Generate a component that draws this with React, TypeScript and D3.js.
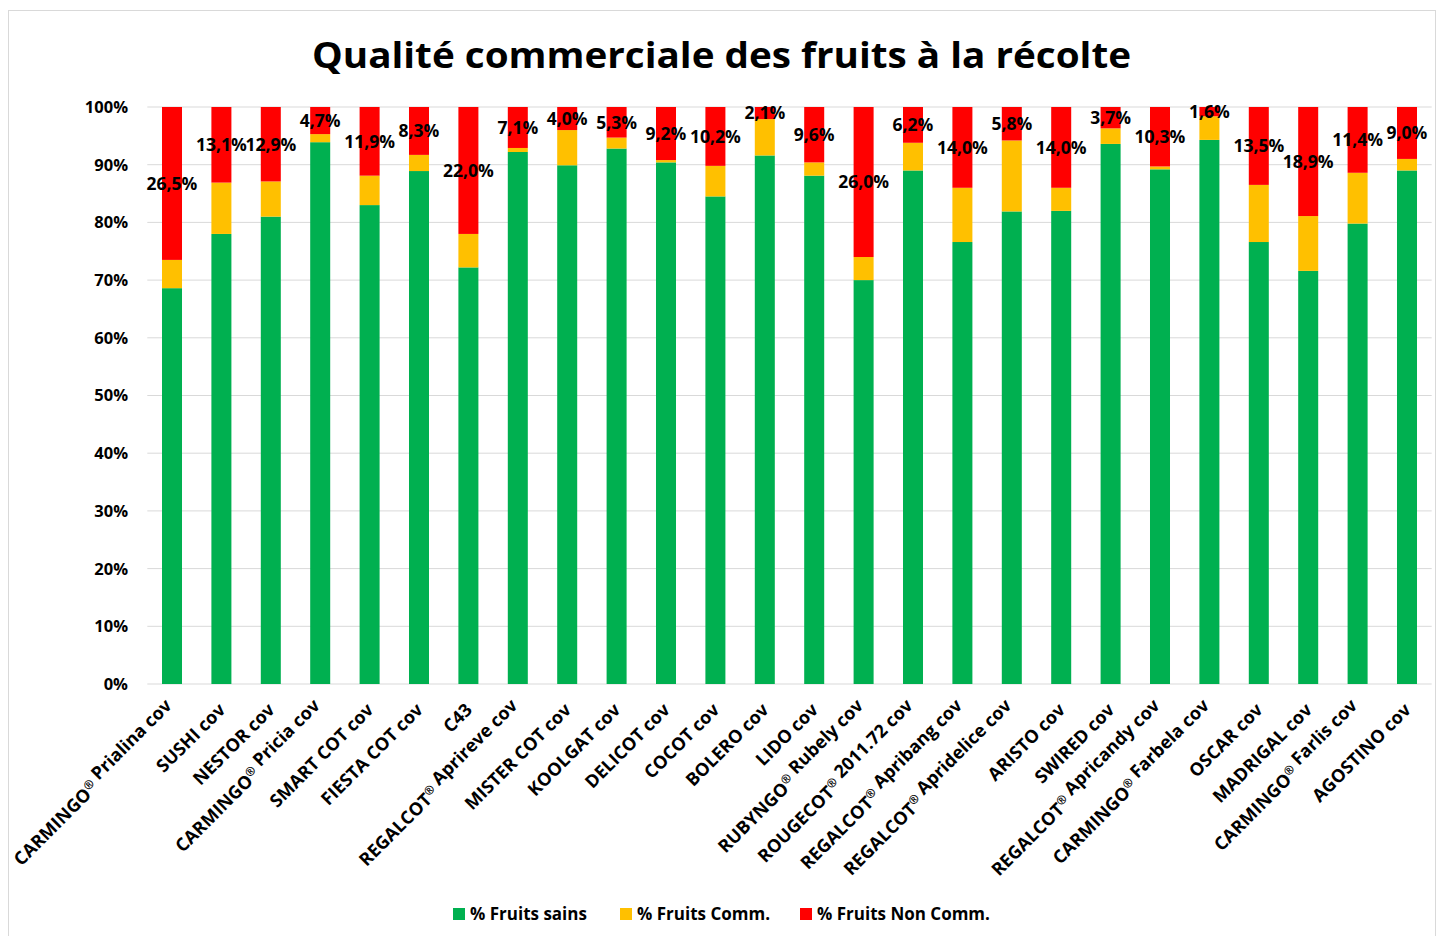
import React from 'react';
import * as d3 from 'd3';

// Stacked 100% bars: quality of fruits at harvest, per variety.

const CATEGORIES = [
  'CARMINGO® Prialina cov', 'SUSHI cov', 'NESTOR cov', 'CARMINGO® Pricia cov',
  'SMART COT cov', 'FIESTA COT cov', 'C43', 'REGALCOT® Aprireve cov',
  'MISTER COT cov', 'KOOLGAT cov', 'DELICOT cov', 'COCOT cov', 'BOLERO cov',
  'LIDO cov', 'RUBYNGO® Rubely cov', 'ROUGECOT® 2011.72 cov',
  'REGALCOT® Apribang cov', 'REGALCOT® Apridelice cov', 'ARISTO cov',
  'SWIRED cov', 'REGALCOT® Apricandy cov', 'CARMINGO® Farbela cov',
  'OSCAR cov', 'MADRIGAL cov', 'CARMINGO® Farlis cov', 'AGOSTINO cov',
];

const SAINS = [
  68.6, 78.0, 81.0, 93.9, 83.0, 88.9, 72.2, 92.2, 89.9, 92.8, 90.4, 84.5, 91.6,
  88.1, 70.0, 89.0, 76.6, 81.9, 82.0, 93.6, 89.2, 94.3, 76.6, 71.6, 79.8, 89.0,
];
const COMM = [
  4.9, 8.9, 6.1, 1.4, 5.1, 2.8, 5.8, 0.7, 6.1, 1.9, 0.4, 5.3, 6.3,
  2.3, 4.0, 4.8, 9.4, 12.3, 4.0, 2.7, 0.5, 4.1, 9.9, 9.5, 8.8, 2.0,
];
const NON_COMM = [
  26.5, 13.1, 12.9, 4.7, 11.9, 8.3, 22.0, 7.1, 4.0, 5.3, 9.2, 10.2, 2.1,
  9.6, 26.0, 6.2, 14.0, 5.8, 14.0, 3.7, 10.3, 1.6, 13.5, 18.9, 11.4, 9.0,
];

const SERIES = ['% Fruits sains', '% Fruits Comm.', '% Fruits Non Comm.'];
const COLORS = ['#00B050', '#FFC000', '#FF0000'];
const Y_TICKS = d3.range(0, 101, 10);

const W = 1443;
const H = 936;
const PLOT_LEFT = 147.3;
const PLOT_RIGHT = 1431.7;
const PLOT_TOP = 107;
const PLOT_BOTTOM = 684;
const FONT = '"Open Sans", Lato, sans-serif';

function Label({ text }: { text: string }) {
  const parts = text.split('®');
  return (
    <>
      {parts.map((p, i) => (
        <React.Fragment key={i}>
          {p}
          {i < parts.length - 1 && (
            <tspan fontSize={12} dy={-6}>®</tspan>
          )}
          {i < parts.length - 1 && <tspan dy={6}>{''}</tspan>}
        </React.Fragment>
      ))}
    </>
  );
}

export default function App() {
  const x = d3
    .scaleBand<string>()
    .domain(CATEGORIES)
    .range([PLOT_LEFT, PLOT_RIGHT])
    .paddingInner(0.595)
    .paddingOuter(0.2975);
  const y = d3.scaleLinear().domain([0, 100]).range([PLOT_BOTTOM, PLOT_TOP]);

  const rows = CATEGORIES.map((c, i) => ({
    cat: c,
    v: [SAINS[i], COMM[i], NON_COMM[i]],
  }));

  const legendX = [453, 620, 800];

  return (
    <svg
      width={W}
      height={H}
      viewBox={`0 0 ${W} ${H}`}
      style={{ position: 'absolute', left: 0, top: 0, background: '#fff' }}
      fontFamily={FONT}
    >
      <rect x={0} y={0} width={W} height={H} fill="#fff" />
      <rect x={8.5} y={10.5} width={1427} height={940} fill="none" stroke="#d9d9d9" />

      <text
        x={312}
        y={68}
        fontSize={35}
        fontWeight={700}
        fill="#000"
        textLength={819}
        lengthAdjust="spacingAndGlyphs"
      >
        Qualité commerciale des fruits à la récolte
      </text>

      {/* grid + y axis */}
      {Y_TICKS.map((t) => (
        <g key={`g-${t}`}>
          <line
            x1={PLOT_LEFT}
            x2={PLOT_RIGHT}
            y1={y(t)}
            y2={y(t)}
            stroke="#d9d9d9"
            strokeWidth={1}
          />
          <text
            x={128}
            y={y(t)}
            dy="0.36em"
            textAnchor="end"
            fontSize={16.5}
            fontWeight={700}
          >
            {`${t}%`}
          </text>
        </g>
      ))}

      {/* bars */}
      {rows.map((r) => {
        let acc = 0;
        const bx = x(r.cat) ?? 0;
        return (
          <g key={r.cat}>
            {r.v.map((v, k) => {
              const y0 = acc;
              acc += v;
              return (
                <rect
                  key={k}
                  x={bx}
                  width={x.bandwidth()}
                  y={y(y0 + v)}
                  height={y(y0) - y(y0 + v)}
                  fill={COLORS[k]}
                />
              );
            })}
          </g>
        );
      })}

      {/* data labels on red segment */}
      {rows.map((r) => {
        const base = r.v[0] + r.v[1];
        const cy = (y(base) + y(base + r.v[2])) / 2;
        return (
          <text
            key={`l-${r.cat}`}
            x={(x(r.cat) ?? 0) + x.bandwidth() / 2}
            y={cy}
            dy="0.36em"
            textAnchor="middle"
            fontSize={17.5}
            fontWeight={700}
          >
            {r.v[2].toFixed(1).replace('.', ',') + '%'}
          </text>
        );
      })}

      {/* x labels */}
      {CATEGORIES.map((c) => {
        const cx = (x(c) ?? 0) + x.bandwidth() / 2 + 5;
        const cy = 711;
        return (
          <text
            key={`x-${c}`}
            x={cx}
            y={cy}
            textAnchor="end"
            fontSize={18}
            fontWeight={700}
            transform={`rotate(-45, ${cx}, ${cy})`}
          >
            <Label text={c} />
          </text>
        );
      })}

      {/* legend */}
      {SERIES.map((s, i) => (
        <g key={s}>
          <rect x={legendX[i]} y={908} width={12} height={12} fill={COLORS[i]} />
          <text x={legendX[i] + 17} y={920} fontSize={17} fontWeight={700}>
            {s}
          </text>
        </g>
      ))}
    </svg>
  );
}
